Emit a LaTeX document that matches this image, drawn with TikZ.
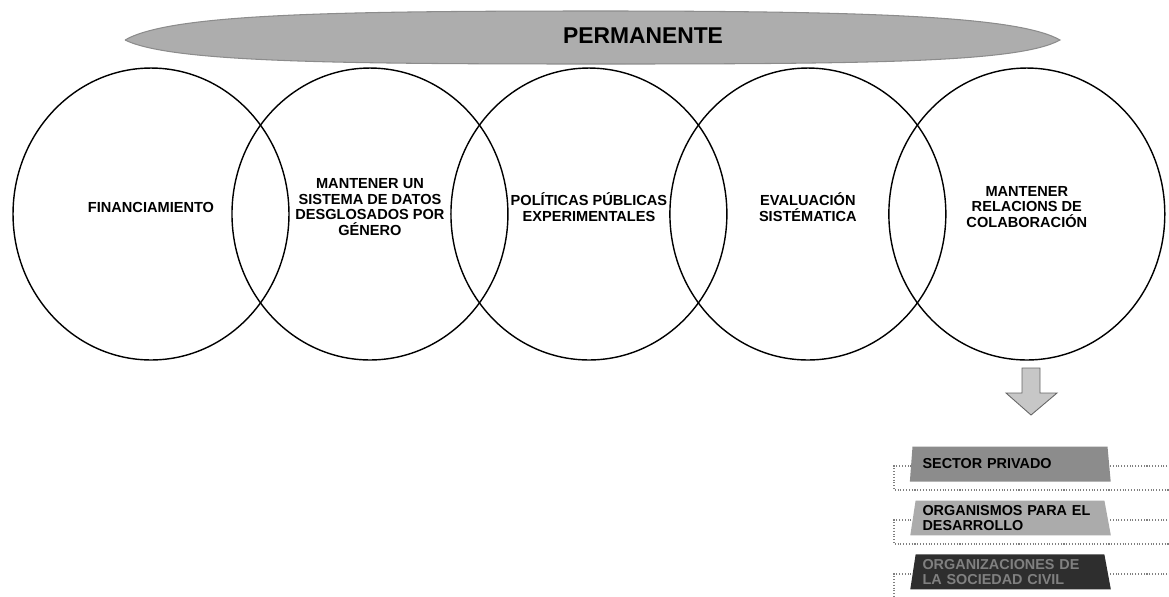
\documentclass[tikz,border=0pt]{standalone}
\usepackage{fontspec}
\setmainfont{Liberation Sans}
\usetikzlibrary{shapes.geometric}
\usetikzlibrary{positioning}
\usetikzlibrary{calc}
\usetikzlibrary{backgrounds}

\begin{document}
\begin{tikzpicture}[x=0.02cm,y=-0.02cm,node distance=4.38cm,on grid,%
  ovalo/.style={draw,ellipse,line width=0.8pt,%
  minimum width=5.52cm,minimum height=5.84cm},
  texto/.style={align=center,font=\fontsize{8.3}{8.8}\selectfont\bfseries},
  caja/.style={trapezium,trapezium stretches=true,trapezium left angle=80,%
  trapezium right angle=78,minimum width=4.02cm,minimum height=0.7cm,%
  text width=3.5cm,align=left,inner sep=1pt,%
  font=\fontsize{8.2}{8.6}\selectfont\bfseries},
  marco/.style={densely dotted,black!50,line width=0.6pt}]
  \useasboundingbox (0,0) rectangle (1169,596);

  % banda de arriba
  \filldraw[fill=black!32,draw=black!45,line width=0.6pt]
    (125,40) .. controls (170,14) and (330,11) .. (600,11)
    .. controls (880,11) and (1020,17) .. (1060,40)
    .. controls (1020,62) and (880,64) .. (600,64)
    .. controls (330,64) and (170,62) .. (125,40);
  \node[font=\fontsize{13}{13}\selectfont\bfseries] (perm) at (643,36) {PERMANENTE};

  % ovalos
  \node[ovalo] (o1) at (151,214) {};
  \node[ovalo] (o2) [right=of o1] {};
  \node[ovalo] (o3) [right=of o2] {};
  \node[ovalo] (o4) [right=of o3] {};
  \node[ovalo] (o5) [right=of o4] {};

  \node[texto] (t1) at ([yshift=0.14cm]o1.center) {FINANCIAMIENTO};
  \node[texto] (t2) at ([yshift=0.14cm]o2.center) {MANTENER UN\\SISTEMA DE DATOS\\DESGLOSADOS POR\\GÉNERO};
  \node[texto] (t3) at ([yshift=0.14cm]o3.center) {POLÍTICAS PÚBLICAS\\EXPERIMENTALES};
  \node[texto] (t4) at ([yshift=0.14cm]o4.center) {EVALUACIÓN\\SISTÉMATICA};
  \node[texto] (t5) at ([yshift=0.14cm]o5.center) {MANTENER\\RELACIONS DE\\COLABORACIÓN};

  % flecha
  \coordinate (fl) at (1031,368);
  \filldraw[fill=black!22,draw=black!60,line width=0.5pt]
    ($(fl)+(-9,0)$) -- ($(fl)+(9,0)$) -- ($(fl)+(9,25)$) -- ($(fl)+(26,25)$)
    -- ($(fl)+(0,47)$) -- ($(fl)+(-25,25)$) -- ($(fl)+(-9,25)$) -- cycle;

  % cajas
  \node[caja,fill=black!45]               (b1) at (1010,464)     {SECTOR PRIVADO};
  \node[caja,fill=black!33]               (b2) [below=1.08cm of b1] {ORGANISMOS PARA EL\\DESARROLLO};
  \node[caja,fill=black!82,text=black!50] (b3) [below=1.08cm of b2] {ORGANIZACIONES DE\\LA SOCIEDAD CIVIL};

  \begin{scope}[on background layer]
    \foreach \b in {b1,b2,b3}
      \draw[marco] ($(\b.center)+(160,2)$) -- ($(\b.center)+(-116,2)$)
        -- ($(\b.center)+(-116,26)$) -- ($(\b.center)+(160,26)$);
  \end{scope}
\end{tikzpicture}
\end{document}
